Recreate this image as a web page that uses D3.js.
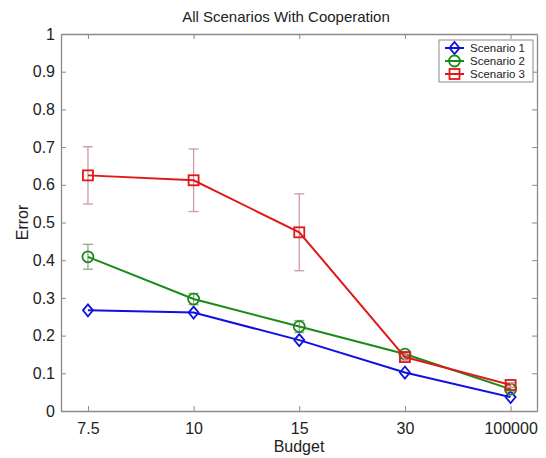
<!DOCTYPE html>
<html>
<head>
<meta charset="utf-8">
<script src="https://cdn.jsdelivr.net/npm/d3@7"></script>
<style>
  body { margin: 0; background: #fff; }
  svg text { font-family: "Liberation Sans", Arial, sans-serif; fill: #222; }
</style>
</head>
<body>
<div id="chart"></div>
<script>
// budget categories along x
const budgets = ['7.5', '10', '15', '30', '100000'];
const yTicks = [0, 0.1, 0.2, 0.3, 0.4, 0.5, 0.6, 0.7, 0.8, 0.9, 1];

// error values
const scenario1 = [0.267, 0.261, 0.188, 0.102, 0.037];
const scenario2 = [0.409, 0.297, 0.224, 0.151, 0.058];
const scenario3 = [0.625, 0.612, 0.474, 0.143, 0.069];

// half-heights of the error bars
const scenario2Err = [0.033, 0.015, 0.016, 0.007, 0.005];
const scenario3Err = [0.076, 0.083, 0.102, 0.008, 0.006];

const seriesNames = ['Scenario 1', 'Scenario 2', 'Scenario 3'];

const width = 546, height = 458;
const margin = {top: 34, right: 9, bottom: 47, left: 61};

const series = [
    {name: seriesNames[0], values: scenario1, err: null, color: '#1010e0', errColor: null, marker: 'diamond'},
    {name: seriesNames[1], values: scenario2, err: scenario2Err, color: '#1a8a1a', errColor: '#8fa88f', marker: 'circle'},
    {name: seriesNames[2], values: scenario3, err: scenario3Err, color: '#e01818', errColor: '#cc9aa4', marker: 'square'}
];

const svg = d3.select('#chart').append('svg')
    .attr('width', width)
    .attr('height', height);

const x = d3.scaleLinear()
    .domain([0.745, 5.25])
    .range([margin.left, width - margin.right]);

const y = d3.scaleLinear()
    .domain([0, 1])
    .range([height - margin.bottom, margin.top]);

const axisColor = '#8a8a8a';
const xIdx = budgets.map((b, i) => i + 1);

// axes box, ticks pointing inwards like matlab
function styleAxis(g) {
    g.select('.domain').attr('stroke', axisColor).attr('stroke-width', 1.3);
    g.selectAll('.tick line').attr('stroke', axisColor);
    g.selectAll('.tick text').attr('font-size', 16).attr('fill', '#222');
}

svg.append('g')
    .attr('transform', `translate(0,${y(0)})`)
    .call(d3.axisBottom(x).tickValues(xIdx).tickFormat(d => budgets[d - 1])
        .tickSizeInner(-5).tickSizeOuter(0).tickPadding(12))
    .call(styleAxis);

svg.append('g')
    .attr('transform', `translate(0,${y(1)})`)
    .call(d3.axisTop(x).tickValues(xIdx).tickFormat('')
        .tickSizeInner(-5).tickSizeOuter(0))
    .call(styleAxis);

svg.append('g')
    .attr('transform', `translate(${x.range()[0]},0)`)
    .call(d3.axisLeft(y).tickValues(yTicks).tickFormat(d3.format('~g'))
        .tickSizeInner(-5).tickSizeOuter(0).tickPadding(6))
    .call(styleAxis);

svg.append('g')
    .attr('transform', `translate(${x.range()[1]},0)`)
    .call(d3.axisRight(y).tickValues(yTicks).tickFormat('')
        .tickSizeInner(-5).tickSizeOuter(0))
    .call(styleAxis);

// titles
svg.append('text')
    .attr('x', 286).attr('y', 22)
    .attr('text-anchor', 'middle')
    .attr('font-size', 15)
    .text('All Scenarios With Cooperation');

svg.append('text')
    .attr('x', (x.range()[0] + x.range()[1]) / 2).attr('y', 452)
    .attr('text-anchor', 'middle')
    .attr('font-size', 16)
    .text('Budget');

svg.append('text')
    .attr('transform', `translate(28,${y(0.5)}) rotate(-90)`)
    .attr('text-anchor', 'middle')
    .attr('font-size', 16)
    .text('Error');

function drawMarker(g, type, cx, cy, color) {
    if (type === 'diamond') {
        g.append('path')
            .attr('d', `M${cx},${cy - 6}L${cx + 5},${cy}L${cx},${cy + 6}L${cx - 5},${cy}Z`)
            .attr('fill', 'none').attr('stroke', color).attr('stroke-width', 1.8);
    } else if (type === 'circle') {
        g.append('circle')
            .attr('cx', cx).attr('cy', cy).attr('r', 5.5)
            .attr('fill', 'none').attr('stroke', color).attr('stroke-width', 1.8);
    } else {
        g.append('rect')
            .attr('x', cx - 5).attr('y', cy - 5).attr('width', 10).attr('height', 10)
            .attr('fill', 'none').attr('stroke', color).attr('stroke-width', 1.8);
    }
}

const line = d3.line()
    .x((d, i) => x(i + 1))
    .y(d => y(d));

const plot = svg.append('g');

for (const s of series) {
    const g = plot.append('g');
    if (s.err) {
        s.values.forEach((v, i) => {
            const cx = x(i + 1);
            const lo = y(v - s.err[i]), hi = y(v + s.err[i]);
            g.append('line').attr('x1', cx).attr('x2', cx).attr('y1', lo).attr('y2', hi)
                .attr('stroke', s.errColor).attr('stroke-width', 1.3);
            g.append('line').attr('x1', cx - 5).attr('x2', cx + 5).attr('y1', lo).attr('y2', lo)
                .attr('stroke', s.errColor).attr('stroke-width', 1.3);
            g.append('line').attr('x1', cx - 5).attr('x2', cx + 5).attr('y1', hi).attr('y2', hi)
                .attr('stroke', s.errColor).attr('stroke-width', 1.3);
        });
    }
    g.append('path')
        .datum(s.values)
        .attr('d', line)
        .attr('fill', 'none')
        .attr('stroke', s.color)
        .attr('stroke-width', 2);
    s.values.forEach((v, i) => drawMarker(g, s.marker, x(i + 1), y(v), s.color));
}

// legend
const legend = svg.append('g');
legend.append('rect')
    .attr('x', 439).attr('y', 40).attr('width', 94).attr('height', 42)
    .attr('fill', '#fff').attr('stroke', axisColor).attr('stroke-width', 1);

series.forEach((s, i) => {
    const ly = 48 + i * 13;
    legend.append('line')
        .attr('x1', 445).attr('x2', 464).attr('y1', ly).attr('y2', ly)
        .attr('stroke', s.color).attr('stroke-width', 2);
    drawMarker(legend, s.marker, 454.5, ly, s.color);
    legend.append('text')
        .attr('x', 470).attr('y', ly + 4)
        .attr('font-size', 11.5)
        .text(s.name);
});
</script>
</body>
</html>
